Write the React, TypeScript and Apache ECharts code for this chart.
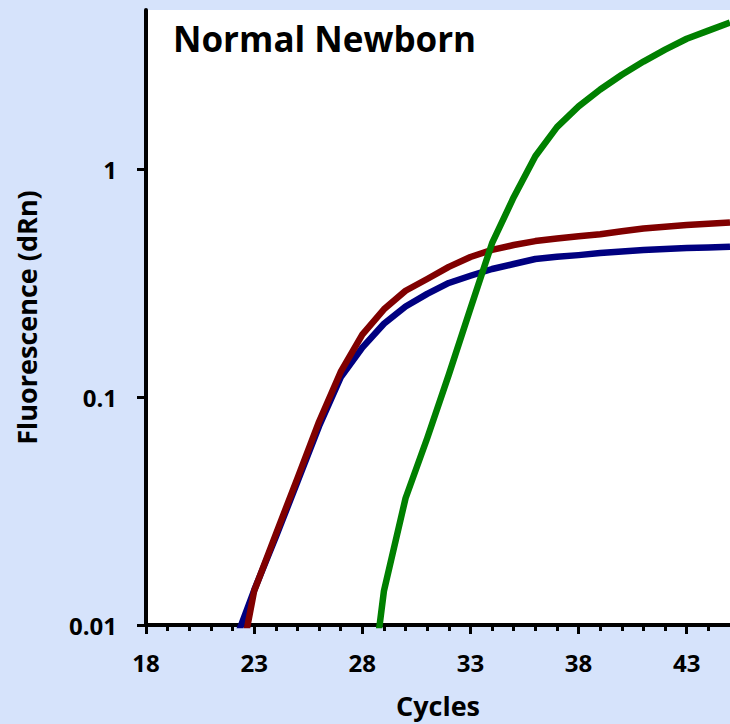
import React, { useEffect, useRef } from "react";
import * as echarts from "echarts";

const CYCLES = [22, 23, 24, 25, 26, 27, 28, 29, 30, 31, 32, 33, 34, 35, 36, 37, 38, 39, 40, 41, 42, 43, 44, 45];
const BLUE = [0.0079, 0.0142, 0.0243, 0.0425, 0.0745, 0.122, 0.165, 0.21, 0.25, 0.284, 0.317, 0.341, 0.365, 0.384, 0.404, 0.413, 0.42, 0.429, 0.436, 0.442, 0.447, 0.451, 0.454, 0.457];
const RED = [0.0045, 0.0141, 0.025, 0.044, 0.078, 0.129, 0.188, 0.243, 0.293, 0.33, 0.373, 0.412, 0.443, 0.465, 0.484, 0.497, 0.508, 0.519, 0.535, 0.55, 0.559, 0.569, 0.576, 0.584];
const GREEN = [null, null, null, null, null, null, 0.0025, 0.0141, 0.036, 0.066, 0.1255, 0.245, 0.474, 0.754, 1.14, 1.53, 1.887, 2.24, 2.6, 2.97, 3.35, 3.74, 4.06, 4.4];
const X_LABELS = [18, 23, 28, 33, 38, 43];
const X_MINOR = [18, 19, 20, 21, 22, 23, 24, 25, 26, 27, 28, 29, 30, 31, 32, 33, 34, 35, 36, 37, 38, 39, 40, 41, 42, 43, 44];
const Y_TICKS = [0.01, 0.1, 1];

const FONT = "Open Sans";

const pairs = (vals: (number | null)[]) => CYCLES.map((c, i) => [c, vals[i]]);

export default function App() {
  const ref = useRef<HTMLDivElement>(null);
  useEffect(() => {
    if (!ref.current) return;
    const chart = echarts.init(ref.current, undefined, { renderer: "svg" });
    const labelStyle = { fontFamily: FONT, fontWeight: "bold" as const, fontSize: 24, color: "#000" };
    const nameStyle = { fontFamily: FONT, fontWeight: "bold" as const, fontSize: 27, color: "#000" };
    const lineSeries = (name: string, vals: (number | null)[], color: string) => ({
      name,
      type: "line",
      data: pairs(vals),
      showSymbol: false,
      symbol: "none",
      connectNulls: false,
      clip: true,
      lineStyle: { color, width: 6.5, cap: "butt", join: "round" },
      itemStyle: { color },
      xAxisIndex: 0,
      yAxisIndex: 0,
    });
    chart.setOption({
      animation: false,
      backgroundColor: "#d6e3fb",
      title: {
        text: "Normal Newborn",
        left: 173,
        top: 21,
        padding: 0,
        textStyle: { fontFamily: FONT, fontWeight: "bold", fontSize: 35, color: "#000" },
      },
      grid: { left: 146, top: 10, right: 0, bottom: 97, show: true, backgroundColor: "#ffffff", borderWidth: 0 },
      xAxis: [
        {
          type: "value",
          min: 18,
          max: 45,
          interval: 5,
          name: "Cycles",
          nameLocation: "middle",
          nameGap: 67,
          nameTextStyle: nameStyle,
          axisLine: { show: true, onZero: false, lineStyle: { color: "#000", width: 4 } },
          axisTick: { show: true, customValues: X_LABELS, length: 9, lineStyle: { color: "#000", width: 3 } },
          axisLabel: { customValues: X_LABELS, margin: 25, ...labelStyle },
          splitLine: { show: false },
        },
        {
          type: "value",
          min: 18,
          max: 45,
          position: "bottom",
          axisLine: { show: false, onZero: false },
          axisTick: { show: true, customValues: X_MINOR, length: 6, lineStyle: { color: "#000", width: 3 } },
          axisLabel: { show: false },
          splitLine: { show: false },
        },
      ],
      yAxis: {
        type: "log",
        logBase: 10,
        min: 0.01,
        max: 5,
        name: "Fluorescence (dRn)",
        nameLocation: "middle",
        nameRotate: 90,
        nameGap: 106,
        nameTextStyle: nameStyle,
        axisLine: { show: true, onZero: false, lineStyle: { color: "#000", width: 4 } },
        axisTick: { show: true, customValues: Y_TICKS, length: 9, lineStyle: { color: "#000", width: 3 } },
        axisLabel: {
          customValues: Y_TICKS,
          margin: 29,
          formatter: (v: number) => String(v),
          ...labelStyle,
        },
        minorTick: { show: false },
        splitLine: { show: false },
      },
      series: [
        lineSeries("Blue", BLUE, "#000080"),
        lineSeries("Red", RED, "#800000"),
        lineSeries("Green", GREEN, "#008000"),
      ],
    });
    return () => chart.dispose();
  }, []);
  return <div ref={ref} style={{ position: "absolute", left: 0, top: 0, width: 730, height: 724 }} />;
}
